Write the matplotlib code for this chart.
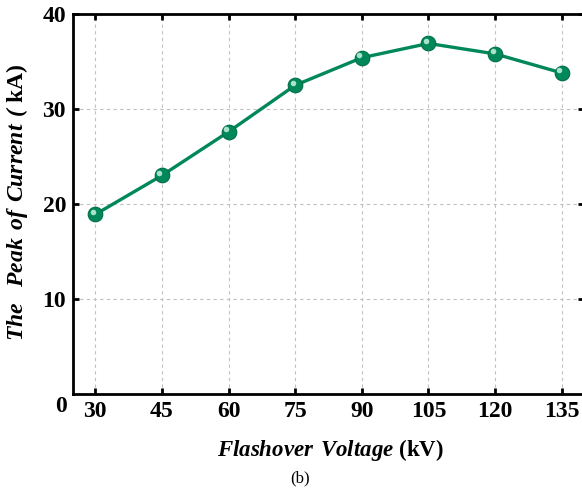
import matplotlib
matplotlib.use('Agg')
import matplotlib.pyplot as plt
import matplotlib.transforms as mtransforms

# peak current vs. flashover voltage
voltage = [30, 45, 60, 75, 90, 105, 120, 135]
peak_current = [18.9, 23.0, 27.6, 32.5, 35.4, 36.9, 35.8, 33.8]
y_ticks = [10, 20, 30, 40]

plt.rcParams['font.family'] = 'Liberation Serif'
plt.rcParams['font.weight'] = 'bold'
plt.rcParams['mathtext.fontset'] = 'custom'
plt.rcParams['mathtext.bfit'] = 'Liberation Serif:italic:bold'
plt.rcParams['mathtext.rm'] = 'Liberation Serif:bold'

W, H = 582, 494
fig = plt.figure(figsize=(W / 100, H / 100), dpi=100)
ax = fig.add_axes([73 / W, 1 - 394 / H, (584 - 73) / W, (394 - 14) / H])

green = '#00885a'
ax.plot(voltage, peak_current, color=green, lw=2.4, zorder=3)
ax.plot(voltage, peak_current, 'o', ms=10.5, mfc=green, mec='#006e46', mew=0.8, zorder=4)
# small highlight on each ball
shine = mtransforms.offset_copy(ax.transData, fig=fig, x=-2.5, y=2.5, units='dots')
ax.plot(voltage, peak_current, 'o', ms=4, mfc='#a8e2c9', mec='none', transform=shine, zorder=5)

ax.set_xlim(25, 140)
ax.set_ylim(0, 40)
ax.set_xticks(voltage)
ax.set_yticks(y_ticks)
ax.grid(True, ls=(0, (3, 3)), color='#c0c0c0', lw=0.8)

for s in ax.spines.values():
    s.set_linewidth(2.0)
ax.tick_params(direction='in', length=4, width=2, top=True, right=True,
               labelsize=17, pad=5)

fig.text(61 / W, 1 - 407 / H, '0', fontsize=17, ha='center', va='center')
fig.text(17 / W, 1 - 202 / H, r'$\mathbfit{The\ \ Peak\ of\ Current\ (}$ kA)',
         rotation=90, fontsize=17, ha='center', va='center')
fig.text(330 / W, 1 - 450 / H, r'$\mathbfit{Flashover\ Voltage}$ (kV)',
         fontsize=16.5, ha='center', va='center')
fig.text(300 / W, 1 - 478 / H, '(b)', fontsize=12, fontweight='normal',
         ha='center', va='center')

fig.savefig('out.png', dpi=100)
